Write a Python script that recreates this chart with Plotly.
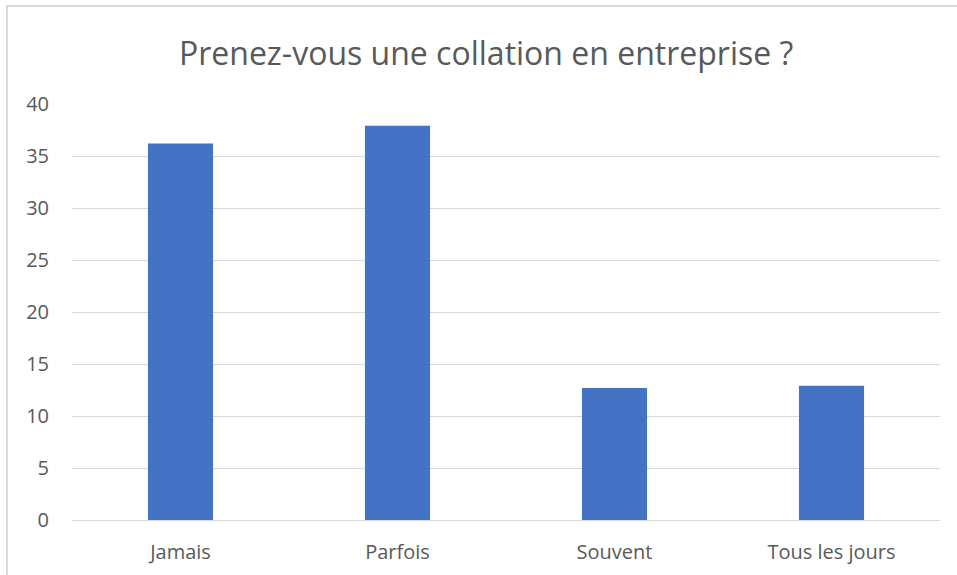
import plotly.graph_objects as go

categories = ["Jamais", "Parfois", "Souvent", "Tous les jours"]
values = [36.2, 37.9, 12.7, 12.9]

fig = go.Figure()
fig.add_trace(
    go.Bar(x=categories, y=values, marker=dict(color="#4472C4", line=dict(width=0)))
)

# cadre du graphique
fig.add_shape(
    type="rect", xref="paper", yref="paper",
    x0=-0.075, x1=1.03, y0=-0.15, y1=1.2356,
    line=dict(color="#D9D9D9", width=2),
)

fig.update_layout(
    width=957,
    height=575,
    margin=dict(l=72, r=17, t=104, b=55),
    paper_bgcolor="white",
    plot_bgcolor="white",
    bargap=0.7,
    showlegend=False,
    font=dict(family="Open Sans", color="#595959", size=20),
    title=dict(
        text="Prenez-vous une collation en entreprise ?",
        x=0.508, xanchor="center", y=0.907, yanchor="middle",
        font=dict(size=32, color="#595959"),
    ),
)
fig.update_yaxes(
    range=[0, 40], dtick=5, showgrid=True, gridcolor="#D9D9D9", gridwidth=1,
    zeroline=False, showline=False, ticks="", ticklabelstandoff=22, automargin=False,
)
fig.update_xaxes(
    showline=True, linecolor="#D9D9D9", linewidth=1, ticks="", ticklabelstandoff=14,
    automargin=False,
)

fig.write_html(
    "out.html",
    config={"displayModeBar": False},
    post_script="document.body.style.margin='0';",
)
